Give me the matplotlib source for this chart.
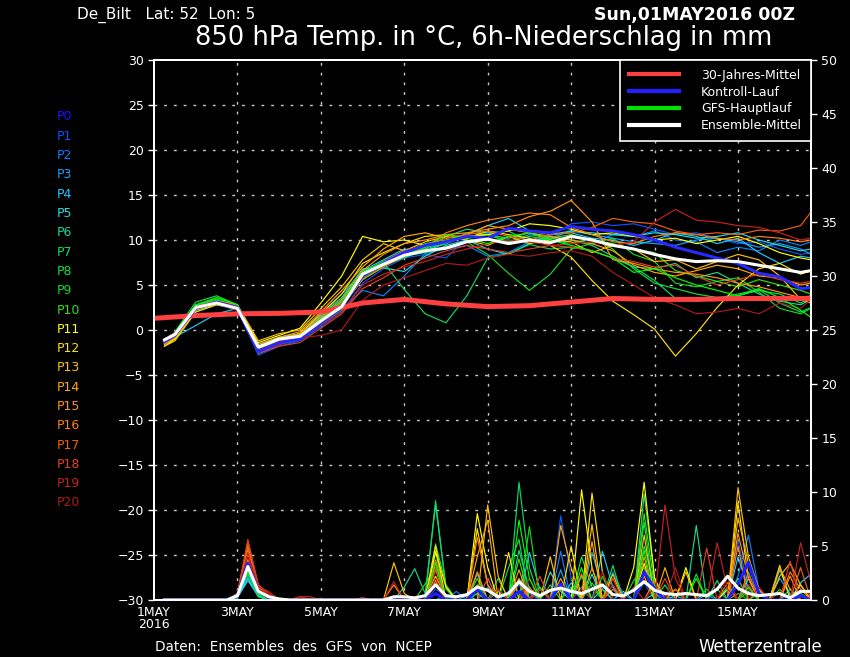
import matplotlib
matplotlib.use("Agg")
import matplotlib.pyplot as plt
from matplotlib.lines import Line2D

# forecast hours of the plotted 850 hPa temperature points
temp_hours = [6] + list(range(12, 373, 12)) + [378]
rain_hours = list(range(6, 379, 6))
clim_hours = list(range(0, 361, 24)) + [378]

member_names = ["P%d" % i for i in range(21)]
member_colors = ["#1414ff", "#0a55ff", "#0a82ff", "#16a2ff", "#20c8ff", "#20e0e0",
                 "#18d890", "#10d860", "#10e040", "#18d820", "#30e010", "#ffff00",
                 "#ffe000", "#ffc000", "#ffa800", "#ff9410", "#ff8010", "#f06010",
                 "#e04020", "#c82020", "#b01818"]

# 850 hPa temperature (deg C)
p0_temp = [-1.3, -0.6, 2.4, 3.1, 2.5, -2.4, -1.4, -1.0, 0.8, 2.6, 6.0, 7.4, 8.6, 9.4, 9.8, 10.4, 10.2, 11.3, 11.0, 10.8, 11.5, 11.2, 11.0, 10.6, 10.0, 9.2, 8.6, 8.0, 7.4, 6.3, 5.9, 4.6, 4.7]
p1_temp = [-1.6, -0.9, 2.2, 3.0, 2.6, -2.8, -1.8, -1.2, 0.4, 2.0, 5.2, 6.8, 8.0, 8.4, 8.0, 10.2, 10.8, 10.0, 9.6, 10.4, 11.8, 12.0, 11.6, 11.8, 11.2, 10.6, 10.8, 10.2, 9.6, 9.8, 9.0, 8.4, 8.6]
p2_temp = [-1.4, -0.7, 2.0, 2.8, 2.2, -2.6, -1.6, -1.1, 0.6, 2.2, 4.4, 3.8, 6.0, 8.5, 9.0, 9.4, 8.2, 8.6, 9.8, 10.4, 10.0, 9.6, 10.6, 10.4, 11.0, 10.0, 9.8, 8.6, 9.2, 8.8, 10.0, 9.4, 9.8]
p3_temp = [-1.2, -0.4, 2.6, 3.2, 2.4, -2.2, -1.2, -0.8, 1.2, 3.0, 6.4, 7.6, 8.8, 9.2, 9.6, 10.4, 10.6, 9.8, 10.6, 10.2, 11.0, 10.6, 10.2, 9.8, 9.6, 9.4, 10.0, 10.2, 9.8, 9.2, 9.6, 9.0, 8.4]
p4_temp = [-1.5, -0.8, 0.5, 1.8, 2.4, -2.0, -1.0, -0.6, 1.4, 3.2, 6.6, 7.8, 9.0, 8.8, 9.6, 10.6, 11.6, 12.4, 11.0, 10.6, 10.8, 10.2, 10.0, 9.4, 10.0, 10.8, 10.4, 9.6, 10.2, 8.6, 7.4, 8.2, 8.0]
p5_temp = [-1.0, -0.3, 2.7, 3.3, 2.6, -1.6, -0.8, -0.4, 1.6, 3.6, 6.8, 6.9, 6.5, 8.2, 9.4, 10.0, 9.0, 8.4, 9.6, 10.6, 11.0, 10.8, 10.6, 10.4, 10.8, 10.6, 10.2, 10.4, 10.8, 10.0, 9.4, 8.8, 9.0]
p6_temp = [-1.3, -0.7, 2.4, 3.0, 2.2, -2.2, -1.4, -0.9, 0.8, 2.8, 6.0, 7.2, 8.0, 9.0, 10.4, 11.2, 10.8, 11.0, 9.8, 10.2, 10.0, 9.4, 8.2, 7.0, 6.8, 7.4, 5.8, 6.4, 5.2, 4.0, 3.2, 2.8, 3.4]
p7_temp = [-1.3, -0.8, 2.8, 3.4, 2.6, -2.0, -1.0, -0.5, 1.5, 4.0, 6.5, 7.5, 4.5, 1.8, 0.8, 3.8, 8.0, 8.5, 9.5, 9.0, 9.2, 8.8, 8.0, 7.0, 5.5, 3.5, 3.2, 3.5, 4.0, 4.5, 3.0, 2.0, 2.5]
p8_temp = [-1.5, -0.2, 3.1, 3.8, 2.8, -2.2, -1.2, -0.6, 1.0, 2.6, 5.6, 7.0, 8.4, 9.0, 9.6, 10.8, 10.6, 9.8, 10.4, 10.0, 9.6, 10.2, 9.0, 6.8, 5.2, 4.6, 4.0, 3.6, 3.8, 4.4, 4.0, 3.0, 3.6]
p9_temp = [-1.2, -0.5, 2.6, 3.6, 2.8, -2.0, -1.2, -0.8, 1.0, 2.8, 6.0, 7.4, 8.2, 8.6, 9.2, 9.8, 8.4, 6.3, 4.4, 6.2, 9.0, 9.6, 10.2, 8.4, 7.6, 5.2, 4.8, 5.4, 5.8, 4.2, 2.4, 1.8, 2.4]
p10_temp = [-1.4, -0.6, 2.4, 3.4, 2.6, -2.2, -1.2, -0.8, 0.8, 2.4, 5.8, 7.2, 8.6, 9.6, 10.0, 10.4, 10.6, 10.2, 10.8, 10.2, 10.6, 10.0, 9.6, 9.0, 8.6, 6.6, 6.0, 5.4, 4.8, 5.6, 5.0, 4.4, 4.0]
p11_temp = [-1.8, -1.0, 2.2, 2.9, 2.6, -1.4, -0.6, 0.2, 3.0, 6.0, 10.4, 9.8, 10.0, 9.4, 9.8, 10.4, 10.6, 11.0, 11.8, 11.6, 11.2, 10.6, 10.8, 10.4, 10.0, 10.2, 9.6, 10.0, 10.4, 9.6, 8.6, 8.0, 7.8]
p12_temp = [-1.8, -1.2, 2.0, 2.8, 2.4, -1.8, -1.0, -0.4, 1.8, 4.0, 7.4, 8.6, 9.6, 10.4, 10.6, 10.2, 11.0, 10.6, 10.2, 9.4, 8.1, 5.5, 3.2, 1.7, 0.1, -2.9, -0.4, 2.5, 5.0, 6.8, 7.4, 6.2, 6.6]
p13_temp = [-1.6, -0.9, 2.2, 3.2, 2.8, -1.2, -0.4, 0.0, 2.4, 4.8, 7.8, 9.6, 8.8, 9.8, 10.4, 10.0, 9.4, 10.4, 9.6, 10.0, 9.8, 8.6, 9.4, 9.0, 7.6, 7.8, 6.8, 7.6, 8.4, 7.8, 6.0, 3.4, 3.0]
p14_temp = [-1.5, -0.8, 2.4, 3.0, 2.6, -1.6, -0.8, -0.2, 2.0, 4.4, 7.0, 9.0, 10.4, 10.8, 10.2, 10.6, 11.6, 11.2, 10.8, 10.4, 10.0, 9.6, 8.8, 7.2, 6.4, 6.0, 6.6, 7.2, 6.8, 6.0, 5.8, 5.0, 5.2]
p15_temp = [-1.4, -0.6, 2.6, 3.2, 2.8, -1.8, -1.0, -0.4, 1.4, 3.4, 6.6, 8.4, 9.6, 10.0, 10.6, 10.8, 11.2, 11.6, 12.6, 13.2, 14.4, 12.0, 7.8, 7.4, 6.8, 6.4, 6.2, 5.8, 5.2, 4.8, 4.2, 3.6, 3.8]
p16_temp = [-1.5, -0.8, 2.3, 3.0, 2.6, -2.2, -1.4, -0.8, 0.8, 2.6, 5.6, 7.0, 8.2, 9.2, 10.8, 11.6, 12.2, 12.6, 13.0, 12.8, 11.4, 10.6, 9.8, 9.6, 10.4, 10.8, 10.6, 10.2, 10.0, 10.4, 10.2, 9.8, 10.0]
p17_temp = [-1.4, -0.7, 2.4, 3.1, 2.7, -2.0, -1.2, -0.6, 1.2, 3.0, 6.2, 7.6, 8.8, 9.4, 10.2, 10.6, 11.0, 10.4, 10.0, 10.6, 10.8, 11.4, 12.4, 12.0, 11.8, 11.0, 10.6, 10.8, 10.6, 11.1, 11.0, 11.6, 13.1]
p18_temp = [-1.2, -0.5, 2.5, 3.0, 2.4, -2.6, -1.8, -1.4, 0.2, 1.8, 4.6, 5.8, 7.2, 8.0, 8.8, 9.4, 9.0, 8.6, 9.0, 9.4, 9.2, 8.8, 8.0, 7.6, 7.0, 7.2, 6.0, 5.0, 5.6, 6.2, 5.6, 5.2, 5.4]
p19_temp = [-1.1, -0.4, 2.6, 3.2, 2.6, -2.4, -1.6, -1.0, 0.6, 2.0, 5.0, 6.2, 7.0, 7.6, 8.4, 9.0, 9.6, 10.0, 9.8, 9.4, 9.6, 9.8, 9.4, 9.8, 12.0, 13.4, 12.2, 12.0, 11.6, 11.4, 10.8, 10.0, 10.2]
p20_temp = [-1.0, -0.3, 2.4, 2.9, 2.2, -2.2, -1.4, -0.9, -0.6, 0.0, 3.3, 5.0, 5.8, 6.6, 7.4, 7.2, 8.0, 8.4, 8.2, 8.6, 8.8, 8.2, 6.4, 5.0, 3.6, 2.8, 1.8, 2.0, 2.4, 1.8, 3.0, 2.4, 3.4]
main_temp = [-1.2, -0.4, 2.8, 3.6, 2.8, -2.0, -1.0, -0.6, 1.2, 3.2, 6.4, 7.6, 8.4, 9.2, 10.6, 10.2, 9.6, 10.4, 10.8, 10.0, 9.4, 8.8, 8.0, 6.4, 6.8, 5.8, 5.0, 4.4, 3.8, 4.6, 3.6, 2.2, 1.4]
mean_temp = [-1.1, -0.5, 2.5, 3.0, 2.4, -1.9, -1.0, -0.7, 1.0, 2.6, 6.2, 7.3, 8.3, 8.8, 9.1, 9.8, 10.1, 9.6, 10.0, 9.7, 10.4, 10.0, 9.4, 9.0, 8.4, 7.9, 7.6, 7.7, 7.6, 7.2, 6.8, 6.4, 6.6]
clim_temp = [1.3, 1.6, 1.8, 1.85, 2.0, 3.0, 3.4, 2.9, 2.6, 2.7, 3.1, 3.5, 3.4, 3.4, 3.5, 3.5, 3.5]

# 6h precipitation (mm), only the non-zero steps
p0_rain = {48: 0.4, 54: 3.4, 60: 0.8, 66: 0.2, 162: 0.6, 186: 1.0, 210: 0.8, 234: 1.5, 282: 2.6, 288: 1.0, 336: 1.5, 342: 3.5, 348: 0.6, 372: 0.4}
p1_rain = {48: 0.3, 54: 3.0, 60: 0.6, 162: 1.0, 168: 0.3, 192: 2.0, 210: 1.4, 234: 7.8, 240: 2.0, 258: 1.0, 282: 1.6, 330: 0.8, 336: 5.5, 342: 1.0, 366: 0.6}
p2_rain = {48: 0.2, 54: 2.6, 60: 0.4, 174: 0.8, 192: 1.2, 216: 0.6, 234: 4.5, 246: 1.2, 264: 2.6, 270: 0.5, 294: 0.4, 336: 2.2, 342: 6.0, 348: 1.0, 360: 0.8}
p3_rain = {48: 0.3, 54: 2.2, 60: 0.5, 168: 0.5, 186: 2.4, 204: 0.8, 234: 2.8, 252: 4.4, 258: 1.0, 282: 3.4, 318: 0.5, 342: 2.6, 360: 2.0, 366: 0.6}
p4_rain = {48: 0.2, 54: 1.8, 60: 0.4, 162: 1.8, 186: 0.6, 216: 4.4, 222: 1.0, 240: 1.6, 258: 4.5, 264: 1.2, 300: 0.4, 336: 4.0, 342: 1.0, 372: 1.6, 378: 2.4}
p5_rain = {48: 0.3, 54: 2.0, 60: 0.3, 162: 2.2, 180: 0.4, 210: 1.6, 228: 2.6, 234: 0.8, 252: 2.4, 270: 0.8, 288: 0.6, 342: 2.0, 360: 2.8, 366: 0.4}
p6_rain = {48: 0.4, 54: 2.4, 60: 0.6, 144: 1.2, 150: 2.9, 156: 0.6, 162: 8.8, 168: 1.2, 198: 0.8, 210: 4.6, 216: 1.0, 246: 2.2, 258: 1.0, 282: 9.8, 288: 2.0, 312: 6.9, 324: 1.8, 348: 0.8}
p7_rain = {48: 0.4, 54: 2.8, 60: 0.5, 162: 9.2, 168: 1.0, 198: 2.0, 210: 10.9, 216: 3.0, 240: 1.2, 264: 3.2, 282: 5.0, 288: 1.4, 324: 1.0, 342: 0.8, 366: 1.0}
p8_rain = {48: 0.3, 54: 2.5, 60: 0.4, 162: 4.4, 186: 0.6, 204: 3.0, 210: 5.6, 222: 1.2, 246: 4.0, 252: 1.2, 282: 7.2, 294: 1.4, 312: 2.4, 330: 1.2, 372: 0.6}
p9_rain = {48: 0.3, 54: 2.7, 60: 0.6, 156: 1.5, 162: 3.0, 198: 1.0, 216: 6.8, 228: 1.4, 258: 2.2, 276: 1.8, 282: 3.0, 318: 1.0, 336: 0.6, 360: 1.0}
p10_rain = {48: 0.4, 54: 3.0, 60: 0.7, 162: 5.2, 168: 1.4, 186: 2.0, 210: 3.8, 234: 1.0, 252: 1.6, 282: 8.0, 288: 1.2, 336: 2.0, 348: 0.6}
p11_rain = {48: 0.4, 54: 3.2, 60: 0.8, 162: 4.5, 168: 1.2, 186: 8.0, 192: 3.0, 222: 1.0, 246: 10.2, 252: 3.0, 276: 3.0, 282: 10.9, 288: 2.0, 306: 3.0, 330: 1.0, 372: 1.4}
p12_rain = {48: 0.5, 54: 3.6, 60: 0.9, 162: 5.0, 186: 6.6, 192: 1.4, 204: 4.4, 240: 5.0, 252: 9.9, 258: 2.6, 282: 3.4, 300: 1.0, 336: 9.0, 342: 2.0, 360: 3.2}
p13_rain = {48: 0.5, 54: 3.8, 60: 1.0, 138: 3.45, 144: 0.6, 162: 2.2, 192: 8.8, 198: 2.2, 228: 4.0, 252: 7.0, 264: 2.4, 282: 6.0, 306: 2.6, 336: 10.4, 342: 4.0, 348: 1.0, 360: 2.2, 366: 3.4, 372: 1.4}
p14_rain = {48: 0.5, 54: 4.2, 60: 1.1, 162: 3.7, 186: 4.0, 192: 7.4, 210: 2.0, 234: 6.9, 240: 3.0, 252: 5.4, 282: 2.2, 294: 3.0, 336: 7.6, 342: 3.4, 360: 3.0, 366: 1.0}
p15_rain = {48: 0.6, 54: 4.6, 60: 1.2, 66: 0.4, 138: 1.4, 162: 1.8, 186: 2.6, 210: 2.8, 234: 2.0, 252: 3.0, 282: 4.0, 336: 6.2, 342: 2.0, 366: 2.2}
p16_rain = {48: 0.6, 54: 5.0, 60: 1.3, 66: 0.5, 162: 2.8, 186: 5.8, 192: 1.4, 216: 1.2, 246: 2.4, 264: 1.0, 288: 1.8, 336: 5.0, 366: 2.6, 372: 1.0}
p17_rain = {48: 0.6, 54: 5.3, 60: 1.4, 66: 0.6, 120: 0.2, 162: 3.6, 186: 1.2, 210: 1.6, 234: 1.2, 264: 2.0, 300: 1.0, 330: 1.6, 342: 2.4, 372: 3.0}
p18_rain = {48: 0.6, 54: 5.6, 60: 1.4, 66: 0.5, 84: 0.3, 162: 3.0, 192: 2.0, 222: 2.2, 264: 1.4, 294: 2.0, 318: 4.8, 342: 1.4, 366: 3.6}
p19_rain = {48: 0.5, 54: 4.4, 60: 1.2, 66: 0.8, 84: 0.3, 90: 0.3, 138: 1.7, 162: 1.4, 198: 1.0, 216: 2.0, 246: 1.0, 276: 1.2, 294: 8.8, 300: 2.0, 324: 5.3, 330: 1.0, 348: 1.2, 372: 5.3, 378: 1.6}
p20_rain = {48: 0.4, 54: 4.0, 60: 1.0, 66: 0.6, 84: 0.3, 162: 2.0, 186: 1.4, 222: 1.0, 258: 2.6, 288: 1.2, 300: 3.0, 330: 2.2, 342: 1.0, 360: 0.8}
main_rain = {48: 0.4, 54: 3.2, 60: 0.7, 162: 3.4, 186: 1.4, 210: 7.4, 216: 2.0, 246: 3.0, 282: 4.6, 312: 2.0, 342: 1.2}
mean_rain = {48: 0.4, 54: 3.1, 60: 0.8, 66: 0.3, 72: 0.1, 138: 0.3, 144: 0.3, 150: 0.2, 156: 0.4, 162: 1.4, 168: 0.4,
             174: 0.3, 180: 0.5, 186: 1.2, 192: 0.9, 198: 0.3, 204: 0.6, 210: 1.7, 216: 0.8, 222: 0.4, 228: 0.9,
             234: 1.1, 240: 0.8, 246: 0.6, 252: 1.0, 258: 1.4, 264: 0.5, 270: 0.4, 276: 0.9, 282: 1.7, 288: 0.9,
             294: 0.6, 300: 0.5, 306: 0.6, 312: 0.5, 318: 0.4, 324: 1.0, 330: 2.2, 336: 1.1, 342: 0.6, 348: 0.4,
             354: 0.5, 360: 0.6, 366: 0.2, 372: 0.8, 378: 0.8}

member_temps = [p0_temp, p1_temp, p2_temp, p3_temp, p4_temp, p5_temp, p6_temp, p7_temp, p8_temp, p9_temp, p10_temp,
                p11_temp, p12_temp, p13_temp, p14_temp, p15_temp, p16_temp, p17_temp, p18_temp, p19_temp, p20_temp]
member_rains = [p0_rain, p1_rain, p2_rain, p3_rain, p4_rain, p5_rain, p6_rain, p7_rain, p8_rain, p9_rain, p10_rain,
                p11_rain, p12_rain, p13_rain, p14_rain, p15_rain, p16_rain, p17_rain, p18_rain, p19_rain, p20_rain]

day_labels = ["1MAY\n2016", "3MAY", "5MAY", "7MAY", "9MAY", "11MAY", "13MAY", "15MAY"]
legend_labels = ["30-Jahres-Mittel", "Kontroll-Lauf", "GFS-Hauptlauf", "Ensemble-Mittel"]


def days(hours):
    return [h / 24 for h in hours]


def rain_series(peaks):
    return [peaks.get(h, 0.0) for h in rain_hours]


def on_rain_axis(temps):
    # temperature -30..30 shares the frame with precipitation 0..50
    return [t * 50 / 60 + 25 for t in temps]


fig = plt.figure(figsize=(8.5, 6.57), dpi=100, facecolor="black")
ax = fig.add_axes([154 / 850, 57 / 657, 657 / 850, 540 / 657])
ax.set_facecolor("black")
ax2 = ax.twinx()

# precipitation on the right axis
for rain, col in zip(member_rains, member_colors):
    ax2.plot(days(rain_hours), rain_series(rain), color=col, lw=0.85)
ax2.plot(days(rain_hours), rain_series(main_rain), color="#00ff00", lw=0.85)
ax2.plot(days(rain_hours), rain_series(p0_rain), color="#2020ff", lw=2.2)
ax2.plot(days(rain_hours), rain_series(mean_rain), color="white", lw=2.2)

# temperature members
for temp, col in zip(member_temps[1:], member_colors[1:]):
    ax2.plot(days(temp_hours), on_rain_axis(temp), color=col, lw=0.85)
ax2.plot(days(temp_hours), on_rain_axis(main_temp), color="#00ff00", lw=0.85)
ax2.plot(days(clim_hours), on_rain_axis(clim_temp), color="#ff4040", lw=3.6)
ax2.plot(days(temp_hours), on_rain_axis(p0_temp), color="#2828ff", lw=2.2)
ax2.plot(days(temp_hours), on_rain_axis(mean_temp), color="white", lw=2.2)

ax.set_xlim(0, 15.75)
ax.set_ylim(-30, 30)
ax2.set_ylim(0, 50)

ax.set_yticks(range(-30, 31, 5))
ax2.set_yticks(range(0, 51, 5))
ax.set_xticks(range(0, 15, 2))
ax.set_xticklabels(day_labels)

for a in (ax, ax2):
    for s in a.spines.values():
        s.set_color("white")
        s.set_linewidth(1.3)
ax.tick_params(axis="y", colors="white", labelsize=9, length=4, width=1)
ax2.tick_params(axis="y", colors="white", labelsize=9, length=4, width=1)
ax.tick_params(axis="x", colors="white", labelsize=9, length=0, pad=4)
for lab in ax.get_xticklabels():
    lab.set_linespacing(0.9)

# dotted grid: 5 deg C and every second day
for y in range(-25, 30, 5):
    ax.axhline(y, color="#c8c8c8", lw=1, ls=(0, (2, 5)), zorder=0)
for d in range(2, 15, 2):
    ax.axvline(d, color="#c8c8c8", lw=1, ls=(0, (2, 5)), zorder=0)

handles = [Line2D([], [], color="#ff4040", lw=3),
           Line2D([], [], color="#2020ff", lw=3),
           Line2D([], [], color="#00e000", lw=3),
           Line2D([], [], color="white", lw=3)]
leg = ax2.legend(handles, legend_labels, loc="upper right", borderaxespad=0, fancybox=False,
                 framealpha=1, facecolor="black", edgecolor="white", labelcolor="white", fontsize=9,
                 handlelength=4.0, handletextpad=1.8, borderpad=0.7, labelspacing=0.3)
leg.get_frame().set_linewidth(1.2)

# member labels on the left
for i, (name, col) in enumerate(zip(member_names, member_colors)):
    fig.text(57 / 850, 1 - (117 + i * 19.3) / 657, name, color=col, fontsize=9, va="center")

fig.text(77 / 850, 1 - 15 / 657, "De_Bilt   Lat: 52  Lon: 5", color="white", fontsize=11, va="center")
fig.text(795 / 850, 1 - 15 / 657, "Sun,01MAY2016 00Z", color="white", fontsize=12.5, weight="bold",
         va="center", ha="right")
fig.text(484 / 850, 1 - 38 / 657, "850 hPa Temp. in °C, 6h-Niederschlag in mm", color="white",
         fontsize=18.5, va="center", ha="center")
fig.text(155 / 850, 1 - 647 / 657, "Daten:  Ensembles  des  GFS  von  NCEP", color="white", fontsize=9.8,
         va="center")
fig.text(822 / 850, 1 - 647 / 657, "Wetterzentrale", color="white", fontsize=12, va="center", ha="right")

fig.savefig("out.png", dpi=100, facecolor="black")
